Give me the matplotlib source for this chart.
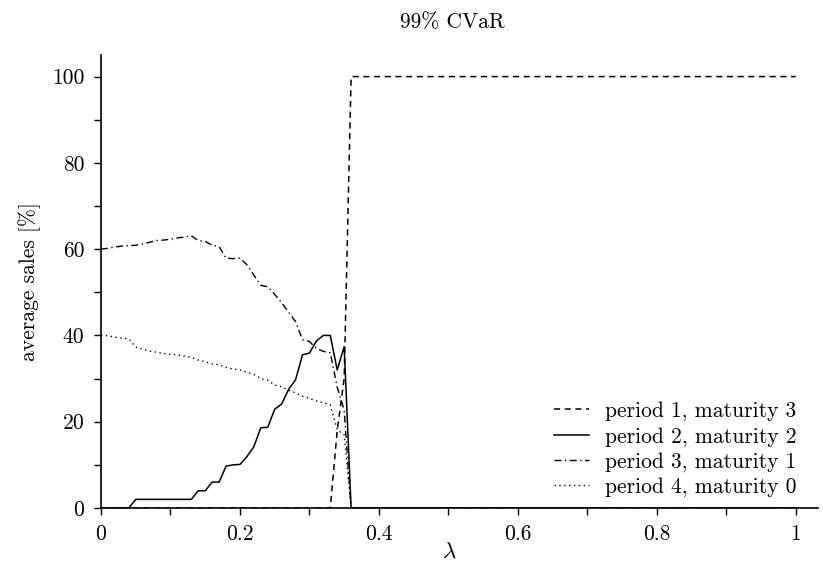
import numpy as np
import matplotlib
matplotlib.use("Agg")
import matplotlib.pyplot as plt
from matplotlib.ticker import MultipleLocator

plt.rcParams['font.family'] = 'serif'
plt.rcParams['font.serif'] = ['cmr10']
plt.rcParams['mathtext.fontset'] = 'cm'
plt.rcParams['axes.unicode_minus'] = False

# lambda grid (0.00 .. 0.36 step 0.01, then flat to 1)
lam = [0.00, 0.01, 0.02, 0.03, 0.04, 0.05, 0.06, 0.07, 0.08, 0.09,
       0.10, 0.11, 0.12, 0.13, 0.14, 0.15, 0.16, 0.17, 0.18, 0.19,
       0.20, 0.21, 0.22, 0.23, 0.24, 0.25, 0.26, 0.27, 0.28, 0.29,
       0.30, 0.31, 0.32, 0.33, 0.34, 0.35, 0.36, 1.00]

period1 = [0, 0, 0, 0, 0, 0, 0, 0, 0, 0,
           0, 0, 0, 0, 0, 0, 0, 0, 0, 0,
           0, 0, 0, 0, 0, 0, 0, 0, 0, 0,
           0, 0, 0, 0, 18, 30, 100, 100]
period2 = [0, 0, 0, 0, 0, 2.0, 2.0, 2.0, 2.0, 2.0,
           2.0, 2.0, 2.0, 2.0, 4.0, 4.0, 6.0, 6.0, 9.7, 10.0,
           10.1, 11.9, 14.2, 18.6, 18.7, 22.9, 24.1, 27.5, 29.7, 35.5,
           35.9, 38.7, 40.0, 40.0, 32.0, 37.4, 0, 0]
period3 = [60.0, 60.2, 60.5, 60.7, 60.8, 60.9, 61.2, 61.6, 62.0, 62.1,
           62.3, 62.6, 62.8, 63.1, 62.0, 61.8, 60.9, 60.6, 57.9, 57.8,
           57.9, 56.4, 54.0, 51.6, 51.3, 49.5, 47.6, 45.4, 43.2, 39.0,
           38.6, 37.0, 36.3, 36.0, 28.0, 22.7, 0, 0]
period4 = [40.1, 39.9, 39.6, 39.4, 39.2, 37.3, 36.8, 36.4, 36.1, 35.8,
           35.6, 35.5, 35.2, 34.9, 34.3, 33.9, 33.4, 33.2, 32.6, 32.2,
           32.0, 31.5, 31.0, 30.0, 29.6, 28.5, 28.1, 27.3, 26.7, 25.9,
           25.4, 24.8, 24.4, 23.9, 18.1, 17.0, 0, 0]

labels = ['period 1, maturity 3', 'period 2, maturity 2',
          'period 3, maturity 1', 'period 4, maturity 0']
xticks = [0, 0.2, 0.4, 0.6, 0.8, 1]
xticklabels = ['0', '0.2', '0.4', '0.6', '0.8', '1']
yticks = [0, 20, 40, 60, 80, 100]

fs = 15.5

fig = plt.figure(figsize=(8.23, 5.74), dpi=100)
ax = fig.add_axes([101 / 823, 66 / 574, 717 / 823, 453 / 574])

ax.plot(lam, period1, color='black', lw=1.1, dashes=(4, 3), label=labels[0])
ax.plot(lam, period2, color='black', lw=1.1, ls='-', label=labels[1])
ax.plot(lam, period3, color='black', lw=1.0, dashes=(5, 2.5, 1, 2.5), label=labels[2])
ax.plot(lam, period4, color='black', lw=1.0, dashes=(1, 2.5), label=labels[3])

ax.set_xlim(0, 1.032)
ax.set_ylim(0, 105)
ax.set_xticks(xticks)
ax.set_xticklabels(xticklabels)
ax.set_yticks(yticks)
ax.xaxis.set_minor_locator(MultipleLocator(0.1))
ax.yaxis.set_minor_locator(MultipleLocator(10))
ax.tick_params(which='both', direction='out', length=5, width=1.0,
               labelsize=fs, pad=7)

for s in ['top', 'right']:
    ax.spines[s].set_visible(False)
for s in ['left', 'bottom']:
    ax.spines[s].set_linewidth(1.2)

ax.set_xlabel(r'$\lambda$', fontsize=fs + 1)
ax.xaxis.set_label_coords((449 - 101) / 717, -0.075)
ax.set_ylabel('average sales [%]', fontsize=fs)
ax.yaxis.set_label_coords(-0.083, 0.5)
fig.text(452 / 823, 1 - 22 / 574, '99% CVaR', fontsize=fs,
         ha='center', va='center')

ax.legend(loc='lower right', bbox_to_anchor=(0.982, 0.005), frameon=False,
          fontsize=fs, handlelength=1.6, handletextpad=0.75,
          labelspacing=0.25, borderaxespad=0)

fig.savefig('out.png', dpi=100)
